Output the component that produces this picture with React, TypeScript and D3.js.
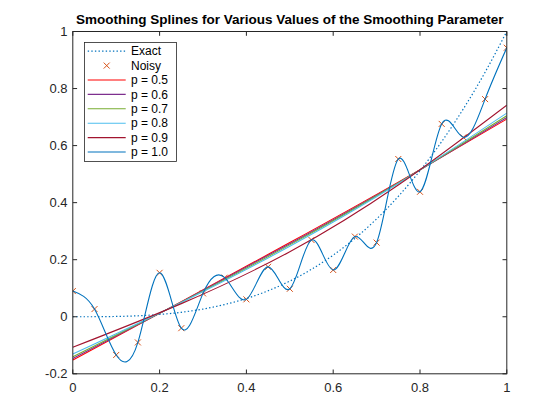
import React from "react";
import * as d3 from "d3";

const sampleX = [0, 0.05, 0.1, 0.15, 0.2, 0.25, 0.3, 0.35, 0.4, 0.45, 0.5, 0.55, 0.6, 0.65, 0.7, 0.75, 0.8, 0.85, 0.9, 0.95, 1.0];
const exactY = [0, 0.0001, 0.001, 0.0034, 0.008, 0.0156, 0.027, 0.0429, 0.064, 0.0911, 0.125, 0.1664, 0.216, 0.2746, 0.343, 0.4219, 0.512, 0.6141, 0.729, 0.8574, 1.0];
const noisyY = [0.09, 0.027, -0.134, -0.09, 0.154, -0.04, 0.082, 0.137, 0.061, 0.175, 0.098, 0.269, 0.164, 0.281, 0.26, 0.553, 0.438, 0.676, 0.629, 0.763, 0.943];

const smoothX = [0, 0.25, 0.5, 0.75, 1.0];
const smoothP05 = [-0.152, 0.053, 0.26, 0.472, 0.693];
const smoothP06 = [-0.146, 0.052, 0.256, 0.47, 0.699];
const smoothP07 = [-0.14, 0.051, 0.252, 0.469, 0.705];
const smoothP08 = [-0.131, 0.05, 0.247, 0.467, 0.714];
const smoothP09 = [-0.107, 0.046, 0.228, 0.462, 0.742];

const xTicks = [0, 0.2, 0.4, 0.6, 0.8, 1];
const yTicks = [-0.2, 0, 0.2, 0.4, 0.6, 0.8, 1];
const legendLabels = ["Exact", "Noisy", "p = 0.5", "p = 0.6", "p = 0.7", "p = 0.8", "p = 0.9", "p = 1.0"];

const titleText = "Smoothing Splines for Various Values of the Smoothing Parameter";

const C_BLUE = "#0072BD";
const C_ORANGE = "#D95319";
const smoothSeries = [
  { label: "p = 0.5", ys: smoothP05, color: "#FF0000" },
  { label: "p = 0.6", ys: smoothP06, color: "#7E2F8E" },
  { label: "p = 0.7", ys: smoothP07, color: "#77AC30" },
  { label: "p = 0.8", ys: smoothP08, color: "#4DBEEE" },
  { label: "p = 0.9", ys: smoothP09, color: "#A2142F" },
];

const W = 560, H = 420;
const L = 72.8, R = 506.8, T = 31.5, B = 373.8;
const AX = "#262626";
const FONT = "'Liberation Sans', Arial, Helvetica, sans-serif";

export default function App() {
  const x = d3.scaleLinear().domain([0, 1]).range([L, R]);
  const y = d3.scaleLinear().domain([-0.2, 1]).range([B, T]);
  const line = d3
    .line<[number, number]>()
    .x((d) => x(d[0]))
    .y((d) => y(d[1]))
    .curve(d3.curveNatural);

  const exactPts = sampleX.map((v, i) => [v, exactY[i]] as [number, number]);
  const noisyPts = sampleX.map((v, i) => [v, noisyY[i]] as [number, number]);
  const tl = 4.3;
  const ms = 3;

  const legX = 84.5, legY = 42.5, legW = 92, legH = 119;
  const rowY = (i: number) => legY + 8.7 + i * 14.4;

  return (
    <svg width={W} height={H} style={{ position: "absolute", left: 0, top: 0, background: "#fff" }}>
      <rect x={0} y={0} width={W} height={H} fill="#fff" />
      <defs>
        <clipPath id="plotclip">
          <rect x={L} y={T} width={R - L} height={B - T} />
        </clipPath>
      </defs>
      <g clipPath="url(#plotclip)">
        <path d={line(exactPts) || ""} fill="none" stroke={C_BLUE} strokeWidth={1.2} strokeDasharray="1.4 2.2" />
        {noisyPts.map((p, i) => (
          <g key={i} stroke={C_ORANGE} strokeWidth={1}>
            <line x1={x(p[0]) - ms} y1={y(p[1]) - ms} x2={x(p[0]) + ms} y2={y(p[1]) + ms} />
            <line x1={x(p[0]) - ms} y1={y(p[1]) + ms} x2={x(p[0]) + ms} y2={y(p[1]) - ms} />
          </g>
        ))}
        {smoothSeries.map((s) => (
          <path
            key={s.label}
            d={line(smoothX.map((v, i) => [v, s.ys[i]] as [number, number])) || ""}
            fill="none"
            stroke={s.color}
            strokeWidth={1.1}
          />
        ))}
        <path d={line(noisyPts) || ""} fill="none" stroke={C_BLUE} strokeWidth={1.1} />
      </g>

      {/* axes box */}
      <rect x={L} y={T} width={R - L} height={B - T} fill="none" stroke={AX} strokeWidth={1} />
      {xTicks.map((t) => (
        <g key={"x" + t}>
          <line x1={x(t)} x2={x(t)} y1={B} y2={B - tl} stroke={AX} />
          <line x1={x(t)} x2={x(t)} y1={T} y2={T + tl} stroke={AX} />
          <text x={x(t)} y={391.5} textAnchor="middle" fontFamily={FONT} fontSize={13} fill={AX}>
            {String(t)}
          </text>
        </g>
      ))}
      {yTicks.map((t) => (
        <g key={"y" + t}>
          <line x1={L} x2={L + tl} y1={y(t)} y2={y(t)} stroke={AX} />
          <line x1={R} x2={R - tl} y1={y(t)} y2={y(t)} stroke={AX} />
          <text x={67.5} y={y(t) + 4.5} textAnchor="end" fontFamily={FONT} fontSize={13} fill={AX}>
            {String(Math.round(t * 10) / 10)}
          </text>
        </g>
      ))}

      <text x={(L + R) / 2} y={24} textAnchor="middle" fontFamily={FONT} fontSize={13.5} fontWeight="bold" fill="#000">
        {titleText}
      </text>

      {/* legend */}
      <rect x={legX} y={legY} width={legW} height={legH} fill="#fff" stroke={AX} strokeWidth={0.8} />
      {legendLabels.map((lab, i) => {
        const yy = rowY(i);
        let sample: React.ReactNode = null;
        if (i === 0) {
          sample = <line x1={87.7} x2={125.7} y1={yy} y2={yy} stroke={C_BLUE} strokeWidth={1.2} strokeDasharray="1.4 2.2" />;
        } else if (i === 1) {
          const cx = 106.7;
          sample = (
            <g stroke={C_ORANGE} strokeWidth={1}>
              <line x1={cx - ms} y1={yy - ms} x2={cx + ms} y2={yy + ms} />
              <line x1={cx - ms} y1={yy + ms} x2={cx + ms} y2={yy - ms} />
            </g>
          );
        } else {
          const color = i === 7 ? C_BLUE : smoothSeries[i - 2].color;
          sample = <line x1={87.7} x2={125.7} y1={yy} y2={yy} stroke={color} strokeWidth={1.1} />;
        }
        return (
          <g key={lab}>
            {sample}
            <text x={131} y={yy + 4.2} fontFamily={FONT} fontSize={12} fill="#000">
              {lab}
            </text>
          </g>
        );
      })}
    </svg>
  );
}
